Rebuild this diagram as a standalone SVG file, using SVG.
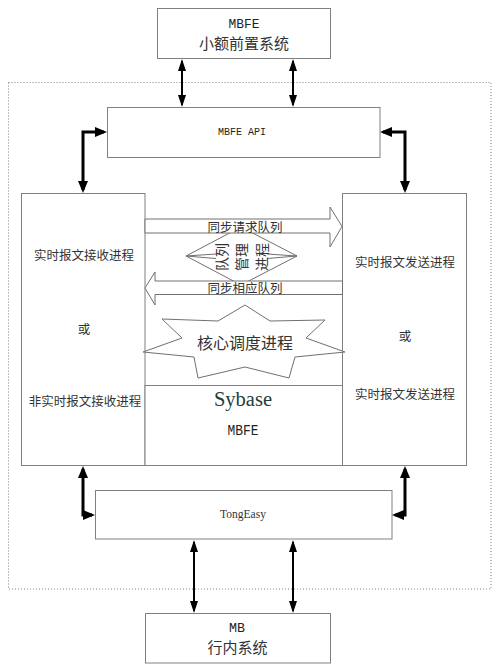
<svg xmlns="http://www.w3.org/2000/svg" width="500" height="672" viewBox="0 0 500 672">
<style>
.box{fill:#fff;stroke:#808080;stroke-width:1}
.cjk{font-family:"Noto Sans CJK SC","Liberation Sans",sans-serif;fill:#333;text-anchor:middle}
.mono{font-family:"Liberation Mono",monospace;fill:#222;text-anchor:middle}
.blk{fill:#fff;stroke:#707070;stroke-width:1}
.thick{fill:none;stroke:#000;stroke-width:3}
.thin{fill:none;stroke:#000;stroke-width:2}
</style>
<defs>
<marker id="ah3" markerUnits="userSpaceOnUse" markerWidth="14" markerHeight="10" refX="9" refY="5" orient="auto-start-reverse"><path d="M0,0 L12,5 L0,10 z" fill="#000"/></marker>
<marker id="ah2" markerUnits="userSpaceOnUse" markerWidth="14" markerHeight="8" refX="10" refY="4" orient="auto-start-reverse"><path d="M0,0 L12,4 L0,8 z" fill="#000"/></marker>
</defs>
<rect id="boundary" x="8.5" y="82.5" width="482.5" height="506.5" fill="none" stroke="#808080" stroke-width="1" stroke-dasharray="1,2"/>
<g id="mbfe-top">
<rect class="box" x="157.5" y="8.5" width="173" height="50"/>
<text class="mono" x="244" y="27.5" font-size="13" textLength="31" lengthAdjust="spacingAndGlyphs">MBFE</text>
<text class="cjk" x="244" y="49" font-size="15">小额前置系统</text>
</g>
<g id="mbfe-api">
<rect class="box" x="107.5" y="107.5" width="272.5" height="50"/>
<text class="mono" x="242" y="135" font-size="10">MBFE API</text>
</g>
<g id="recv">
<rect class="box" x="21.5" y="193.5" width="123.5" height="272"/>
<text class="cjk" x="84" y="260" font-size="12.5">实时报文接收进程</text>
<text class="cjk" x="84" y="334" font-size="12.5">或</text>
<text class="cjk" x="85" y="406" font-size="12.5">非实时报文接收进程</text>
</g>
<g id="send">
<rect class="box" x="342.5" y="193.5" width="124" height="272"/>
<text class="cjk" x="405" y="267" font-size="12.5">实时报文发送进程</text>
<text class="cjk" x="405" y="341" font-size="12.5">或</text>
<text class="cjk" x="405" y="399" font-size="12.5">实时报文发送进程</text>
</g>
<g id="sybase">
<rect class="box" x="145" y="385.5" width="197.5" height="80"/>
<text x="243" y="405.5" font-family="Liberation Serif,serif" font-size="20.5" fill="#1f3d3d" text-anchor="middle">Sybase</text>
<text class="mono" x="243" y="435" font-size="14" textLength="31" lengthAdjust="spacingAndGlyphs">MBFE</text>
</g>
<g id="queue-mgr">
<polygon class="blk" points="186,256 241,227 297,256 241,285"/>
<path d="M186,256 L216,254 M186,256 L216,258.5 M297,256 L267,254 M297,256 L267,258.5" stroke="#707070" stroke-width="1" fill="none"/>
<g transform="rotate(-90 242 257)">
<text class="cjk" x="242" y="242" font-size="14">队列</text>
<text class="cjk" x="242" y="262" font-size="14">管理</text>
<text class="cjk" x="242" y="282" font-size="14">进程</text>
</g>
</g>
<g id="req-queue">
<polygon class="blk" points="145,219 330,219 330,207 342,226.5 330,247 330,233 145,233"/>
<text class="cjk" x="245" y="232" font-size="12.5">同步请求队列</text>
</g>
<g id="resp-queue">
<polygon class="blk" points="342.5,281 155,281 155,272 145,288 155,305 155,294.5 342.5,294.5"/>
<text class="cjk" x="245" y="292.5" font-size="12.5">同步相应队列</text>
</g>
<g id="core">
<polygon class="blk" points="245,305 270,321 325,320 306,338 345,352 295,357 289,378 245,367 198,378 194,357 143,352 182,338 162,319 218,321"/>
<text class="cjk" x="245" y="348.5" font-size="16">核心调度进程</text>
</g>
<g id="tongeasy">
<rect class="box" x="95.5" y="490.5" width="296.5" height="48.5"/>
<text x="243" y="518" font-family="Liberation Serif,serif" font-size="11.5" fill="#333" text-anchor="middle">TongEasy</text>
</g>
<g id="mb">
<rect class="box" x="145.5" y="613.5" width="185" height="49.5"/>
<text class="mono" x="237" y="632" font-size="13" textLength="16" lengthAdjust="spacingAndGlyphs">MB</text>
<text class="cjk" x="237.5" y="653" font-size="15">行内系统</text>
</g>
<g id="connectors">
<path class="thin" d="M182,61 V105" marker-start="url(#ah2)" marker-end="url(#ah2)"/>
<path class="thin" d="M293,61 V105" marker-start="url(#ah2)" marker-end="url(#ah2)"/>
<path class="thick" d="M104,132 H83 V190" marker-start="url(#ah3)" marker-end="url(#ah3)"/>
<path class="thick" d="M383,132 H405 V190" marker-start="url(#ah3)" marker-end="url(#ah3)"/>
<path class="thick" d="M92,515 H83 V469" marker-start="url(#ah3)" marker-end="url(#ah3)"/>
<path class="thick" d="M395,515 H405 V469" marker-start="url(#ah3)" marker-end="url(#ah3)"/>
<path class="thin" d="M194,542 V611" marker-start="url(#ah2)" marker-end="url(#ah2)"/>
<path class="thin" d="M293,542 V611" marker-start="url(#ah2)" marker-end="url(#ah2)"/>
</g>
</svg>
